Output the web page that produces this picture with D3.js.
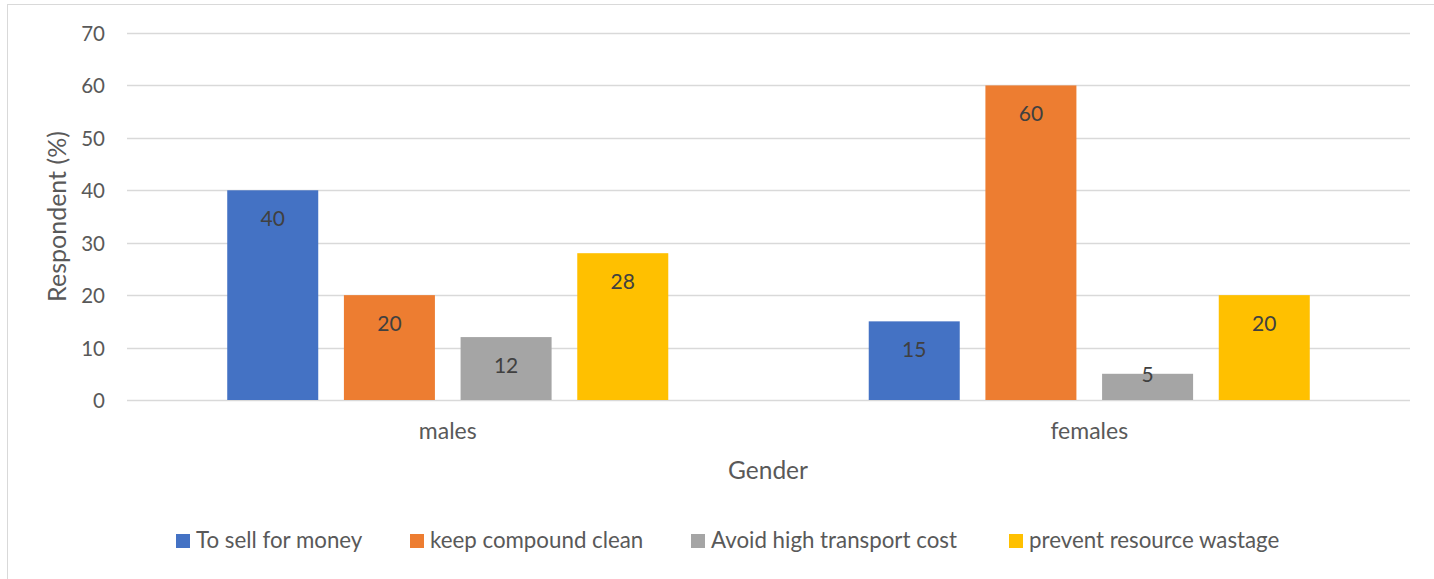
<!DOCTYPE html>
<html>
<head>
<meta charset="utf-8">
<script src="https://cdn.jsdelivr.net/npm/d3@7"></script>
<style>
  html, body { margin: 0; padding: 0; background: #fff; }
  svg { display: block; font-family: Lato, "Open Sans", sans-serif; }
</style>
</head>
<body>
<svg id="chart" width="1434" height="579"></svg>
<script>
// Reasons for sorting waste, by gender
const categories = ["males", "females"];
const seriesNames = ["To sell for money", "keep compound clean", "Avoid high transport cost", "prevent resource wastage"];
const sellForMoney = [40, 15];
const keepClean = [20, 60];
const avoidTransport = [12, 5];
const preventWastage = [28, 20];
const yTicks = [0, 10, 20, 30, 40, 50, 60, 70];
const colors = ["#4472C4", "#ED7D31", "#A5A5A5", "#FFC000"];

const seriesValues = [sellForMoney, keepClean, avoidTransport, preventWastage];

const svg = d3.select("#chart");
const W = 1434, H = 579;
const plot = { left: 127, right: 1410, top: 33, bottom: 400 };
const textColor = "#595959";

// chart frame
svg.append("rect")
  .attr("x", 7.5).attr("y", 4.5)
  .attr("width", W + 10).attr("height", H + 10)
  .attr("fill", "#fff").attr("stroke", "#d9d9d9").attr("stroke-width", 1);

const x0 = d3.scaleBand().domain(categories).range([plot.left, plot.right])
  .paddingInner(0.3125).paddingOuter(0.15625);
const x1 = d3.scaleBand().domain(d3.range(seriesNames.length)).range([0, x0.bandwidth()])
  .paddingInner(0.22).paddingOuter(0);
const y = d3.scaleLinear().domain([0, 70]).range([plot.bottom, plot.top]);

// gridlines
svg.append("g").selectAll("line").data(yTicks).join("line")
  .attr("x1", plot.left).attr("x2", plot.right)
  .attr("y1", d => Math.round(y(d)) + 0.5).attr("y2", d => Math.round(y(d)) + 0.5)
  .attr("stroke", "#d9d9d9").attr("stroke-width", 1.3);

// y axis labels
const yAxis = d3.axisLeft(y).tickValues(yTicks).tickSize(0).tickPadding(0);
const gy = svg.append("g").attr("transform", `translate(105,0)`).call(yAxis);
gy.select(".domain").remove();
gy.selectAll("text")
  .attr("dy", null).attr("y", 7.5)
  .attr("fill", textColor).attr("font-size", 20.5)
  .attr("font-family", 'Lato, sans-serif');

// x axis labels
const xAxis = d3.axisBottom(x0).tickSize(0).tickPadding(0);
const gx = svg.append("g").attr("transform", `translate(0,439)`).call(xAxis);
gx.select(".domain").remove();
gx.selectAll("text")
  .attr("dy", null).attr("y", 0)
  .attr("fill", textColor).attr("font-size", 23)
  .attr("font-family", 'Lato, sans-serif');

// bars with value labels inside the bar end
const groups = svg.append("g").selectAll("g").data(categories).join("g")
  .attr("transform", d => `translate(${x0(d)},0)`);

groups.each(function(cat, ci) {
  const g = d3.select(this);
  seriesValues.forEach((vals, si) => {
    const v = vals[ci];
    g.append("rect")
      .attr("x", x1(si)).attr("width", x1.bandwidth())
      .attr("y", y(v)).attr("height", y(0) - y(v))
      .attr("fill", colors[si]);
    g.append("text")
      .attr("x", x1(si) + x1.bandwidth() / 2)
      .attr("y", Math.min(y(v) + 36, y(0) - 18))
      .attr("text-anchor", "middle")
      .attr("font-size", 21)
      .attr("fill", "#404040")
      .text(v);
  });
});

// axis titles
svg.append("text")
  .attr("transform", `translate(66,${(plot.top + plot.bottom) / 2}) rotate(-90)`)
  .attr("text-anchor", "middle").attr("font-size", 25).attr("fill", textColor)
  .text("Respondent (%)");

svg.append("text")
  .attr("x", 768).attr("y", 479)
  .attr("text-anchor", "middle").attr("font-size", 24.5).attr("fill", textColor)
  .text("Gender");

// legend
const legendX = [176, 410, 691, 1009];
const legend = svg.append("g").selectAll("g").data(seriesNames).join("g")
  .attr("transform", (d, i) => `translate(${legendX[i]},534)`);
legend.append("rect").attr("width", 14).attr("height", 14).attr("fill", (d, i) => colors[i]);
legend.append("text")
  .attr("x", 20).attr("y", 14)
  .attr("font-size", 22.3).attr("fill", textColor)
  .text(d => d);
</script>
</body>
</html>
